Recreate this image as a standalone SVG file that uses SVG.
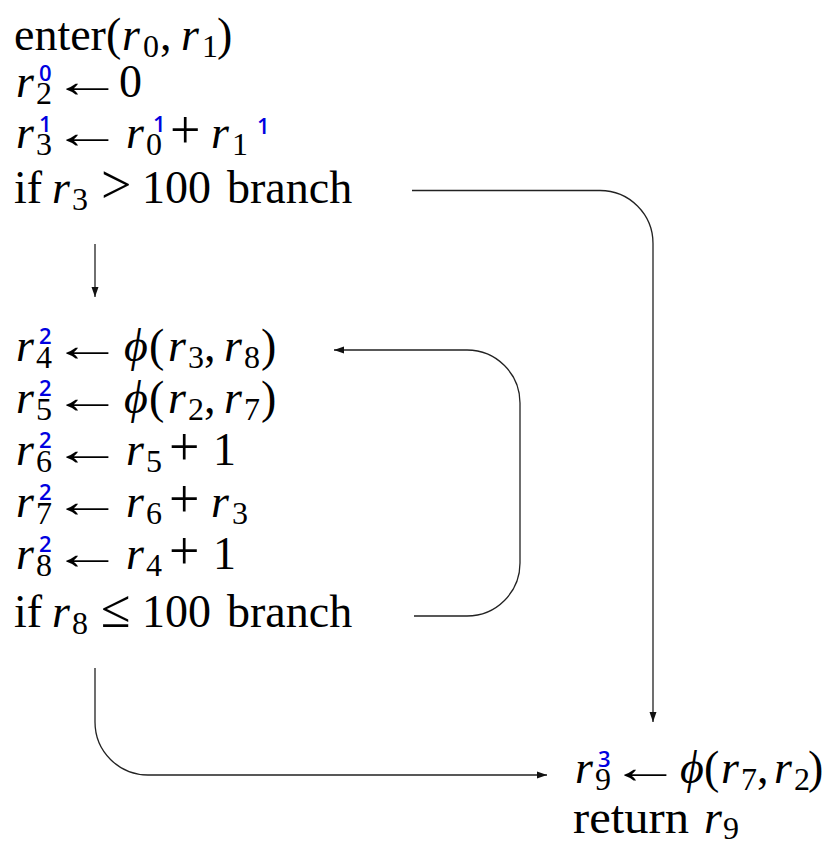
<svg xmlns="http://www.w3.org/2000/svg" width="837" height="847" viewBox="0 0 837 847">
<style>
.t{font-family:"Liberation Serif","DejaVu Serif",serif;font-size:46px;fill:#000}
.i{font-style:italic}
.s{font-size:32px;font-style:normal}
.o{font-size:54px;font-style:normal}
.ar{font-family:"Liberation Serif","DejaVu Serif",serif;font-size:46px;fill:#000}
.u{font-family:"Open Sans","DejaVu Sans",sans-serif;font-size:22px;font-weight:600;fill:#0000e0}
.c{fill:none;stroke:#222;stroke-width:1.3}
</style>
<defs>
<marker id="ah" markerUnits="userSpaceOnUse" markerWidth="11" markerHeight="8" refX="10" refY="4" orient="auto">
<path d="M0,0.5 L10,4 L0,7.5 z" fill="#111"/>
</marker>
</defs>
<rect width="837" height="847" fill="#fff"/>
<g id="entry">
<text class="t" y="50"><tspan x="14">enter</tspan><tspan x="106">(</tspan><tspan class="i" x="122">r</tspan><tspan class="s" x="143" dy="7">0</tspan><tspan x="160" dy="-7">,</tspan><tspan class="i" x="181">r</tspan><tspan class="s" x="202" dy="7">1</tspan><tspan x="217" dy="-7">)</tspan></text>
<text class="t" y="97"><tspan class="i" x="16">r</tspan><tspan class="s" x="36" dy="7">2</tspan><tspan x="119" dy="-7">0</tspan></text>
<text class="ar" transform="translate(52,97) scale(1.55,1)">←</text>
<text class="u" x="39" y="81">0</text>
<text class="t" y="148"><tspan class="i" x="16">r</tspan><tspan class="s" x="36" dy="7">3</tspan><tspan class="i" x="126" dy="-7">r</tspan><tspan class="s" x="146" dy="7">0</tspan><tspan class="o" x="170" dy="-7">+</tspan><tspan class="i" x="211">r</tspan><tspan class="s" x="232" dy="7">1</tspan></text>
<text class="ar" transform="translate(52,148) scale(1.55,1)">←</text>
<text class="u" x="39" y="132">1</text>
<text class="u" x="153" y="132">1</text>
<text class="u" x="257" y="134">1</text>
<text class="t" y="203"><tspan x="14">if</tspan><tspan class="i" x="52">r</tspan><tspan class="s" x="72" dy="7">3</tspan><tspan class="o" x="101" dy="-7">&gt;</tspan><tspan x="142">100</tspan><tspan x="227">branch</tspan></text>
</g>
<g id="loop">
<text class="t" y="361"><tspan class="i" x="16">r</tspan><tspan class="s" x="36" dy="7">4</tspan><tspan class="i" x="124" dy="-7">ϕ</tspan><tspan x="149">(</tspan><tspan class="i" x="168">r</tspan><tspan class="s" x="188" dy="7">3</tspan><tspan x="204" dy="-7">,</tspan><tspan class="i" x="224">r</tspan><tspan class="s" x="244" dy="7">8</tspan><tspan x="261" dy="-7">)</tspan></text>
<text class="ar" transform="translate(52,361) scale(1.55,1)">←</text>
<text class="u" x="39" y="344">2</text>
<text class="t" y="413"><tspan class="i" x="16">r</tspan><tspan class="s" x="36" dy="7">5</tspan><tspan class="i" x="124" dy="-7">ϕ</tspan><tspan x="149">(</tspan><tspan class="i" x="168">r</tspan><tspan class="s" x="188" dy="7">2</tspan><tspan x="204" dy="-7">,</tspan><tspan class="i" x="224">r</tspan><tspan class="s" x="244" dy="7">7</tspan><tspan x="261" dy="-7">)</tspan></text>
<text class="ar" transform="translate(52,413) scale(1.55,1)">←</text>
<text class="u" x="39" y="396">2</text>
<text class="t" y="465"><tspan class="i" x="16">r</tspan><tspan class="s" x="36" dy="7">6</tspan><tspan class="i" x="126" dy="-7">r</tspan><tspan class="s" x="146" dy="7">5</tspan><tspan class="o" x="169" dy="-7">+</tspan><tspan x="213">1</tspan></text>
<text class="ar" transform="translate(52,465) scale(1.55,1)">←</text>
<text class="u" x="39" y="448">2</text>
<text class="t" y="517"><tspan class="i" x="16">r</tspan><tspan class="s" x="36" dy="7">7</tspan><tspan class="i" x="126" dy="-7">r</tspan><tspan class="s" x="146" dy="7">6</tspan><tspan class="o" x="169" dy="-7">+</tspan><tspan class="i" x="211">r</tspan><tspan class="s" x="232" dy="7">3</tspan></text>
<text class="ar" transform="translate(52,517) scale(1.55,1)">←</text>
<text class="u" x="39" y="500">2</text>
<text class="t" y="569"><tspan class="i" x="16">r</tspan><tspan class="s" x="36" dy="7">8</tspan><tspan class="i" x="126" dy="-7">r</tspan><tspan class="s" x="146" dy="7">4</tspan><tspan class="o" x="169" dy="-7">+</tspan><tspan x="213">1</tspan></text>
<text class="ar" transform="translate(52,569) scale(1.55,1)">←</text>
<text class="u" x="39" y="552">2</text>
<text class="t" y="627"><tspan x="14">if</tspan><tspan class="i" x="52">r</tspan><tspan class="s" x="72" dy="7">8</tspan><tspan class="o" x="101" dy="-7">≤</tspan><tspan x="142">100</tspan><tspan x="227">branch</tspan></text>
</g>
<g id="exit">
<text class="t" y="783"><tspan class="i" x="575">r</tspan><tspan class="s" x="595" dy="7">9</tspan><tspan class="i" x="680" dy="-7">ϕ</tspan><tspan x="704">(</tspan><tspan class="i" x="721">r</tspan><tspan class="s" x="741" dy="7">7</tspan><tspan x="757" dy="-7">,</tspan><tspan class="i" x="774">r</tspan><tspan class="s" x="794" dy="7">2</tspan><tspan x="808" dy="-7">)</tspan></text>
<text class="ar" transform="translate(610,783) scale(1.55,1)">←</text>
<text class="u" x="598" y="767">3</text>
<text class="t" x="573" y="833" textLength="116" lengthAdjust="spacingAndGlyphs">return</text>
<text class="t" y="833"><tspan class="i" x="704">r</tspan><tspan class="s" x="723" dy="6">9</tspan></text>
</g>
<g id="connectors">
<path class="c" d="M412,190.5 H600 A53,53 0 0 1 653,243.5 V722" marker-end="url(#ah)"/>
<path class="c" d="M95,244 V297" marker-end="url(#ah)"/>
<path class="c" d="M414,616 H467 A53,53 0 0 0 520,563 V403 A53,53 0 0 0 467,350 H334" marker-end="url(#ah)"/>
<path class="c" d="M95,668 V722 A53,53 0 0 0 148,775 H547" marker-end="url(#ah)"/>
</g>
</svg>
